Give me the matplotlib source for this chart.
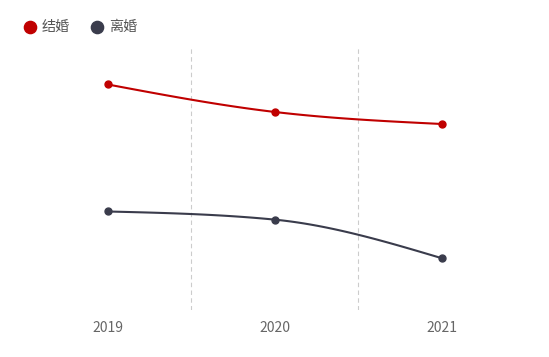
import numpy as np
import matplotlib
matplotlib.use("Agg")
import matplotlib.pyplot as plt
from matplotlib.lines import Line2D

plt.rcParams['font.family'] = ['Noto Sans CJK SC', 'DejaVu Sans']

categories = ["2019", "2020", "2021"]
series_names = ["结婚", "离婚"]
marriage = [861, 756, 710]
divorce = [376, 345, 198]
colors = ["#c00000", "#3a3c4c"]

W, H = 549, 357
fig = plt.figure(figsize=(W / 100, H / 100), dpi=100)
left, right, top, bottom = 24, 525, 48, 310
ax = fig.add_axes([left / W, 1 - bottom / H, (right - left) / W, (bottom - top) / H])
ax.set_xlim(-0.5, len(categories) - 0.5)
ax.set_ylim(0, 1000)


def monotone_curve(xs, ys, n=60):
    xs = np.asarray(xs, float)
    ys = np.asarray(ys, float)
    h = np.diff(xs)
    s = np.diff(ys) / h
    m = len(xs)
    t = np.zeros(m)
    for i in range(1, m - 1):
        p = (s[i - 1] * h[i] + s[i] * h[i - 1]) / (h[i - 1] + h[i])
        t[i] = (np.sign(s[i - 1]) + np.sign(s[i])) * min(abs(s[i - 1]), abs(s[i]), 0.5 * abs(p))
    t[0] = (3 * s[0] - t[1]) / 2 if m > 2 else s[0]
    t[-1] = (3 * s[-1] - t[-2]) / 2 if m > 2 else s[-1]
    X, Y = [], []
    u = np.linspace(0, 1, n)
    for i in range(m - 1):
        h00 = 2 * u ** 3 - 3 * u ** 2 + 1
        h10 = u ** 3 - 2 * u ** 2 + u
        h01 = -2 * u ** 3 + 3 * u ** 2
        h11 = u ** 3 - u ** 2
        X.append(xs[i] + u * h[i])
        Y.append(h00 * ys[i] + h10 * h[i] * t[i] + h01 * ys[i + 1] + h11 * h[i] * t[i + 1])
    return np.concatenate(X), np.concatenate(Y)


x = np.arange(len(categories))
for vals, c in zip([marriage, divorce], colors):
    cx, cy = monotone_curve(x, vals)
    ax.plot(cx, cy, color=c, lw=1.5, solid_capstyle='round', zorder=3)
    ax.plot(x, vals, 'o', color=c, ms=5, zorder=4)

# vertical dashed gridlines between categories
for b in np.arange(0.5, len(categories) - 0.5, 1):
    ax.axvline(b, color="#cccccc", lw=0.8, ls=(0, (4, 3)), zorder=1)

for sp in ax.spines.values():
    sp.set_visible(False)
ax.set_yticks([])
ax.set_xticks(x)
ax.set_xticklabels(categories, fontsize=10, color="#666666")
ax.tick_params(axis='x', length=0, pad=8)

# legend drawn manually
leg_y = 1 - 27 / H
items = [(30, 42, series_names[0], colors[0]), (97, 109, series_names[1], colors[1])]
for mx, tx, name, c in items:
    fig.add_artist(Line2D([mx / W], [leg_y], marker='o', ms=8.8, color=c, lw=0,
                          transform=fig.transFigure))
    fig.text(tx / W, leg_y, name, fontsize=10.2, color="#555555", va='center', ha='left')

fig.savefig("out.png", dpi=100)
